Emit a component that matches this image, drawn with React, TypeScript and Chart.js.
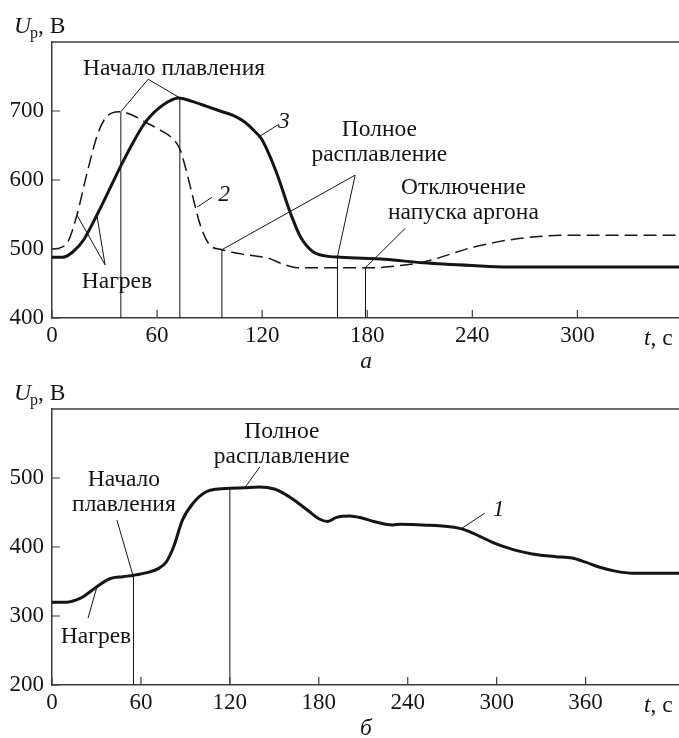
import React, { useEffect, useRef } from "react";
import { Chart, registerables } from "chart.js";

Chart.register(...registerables);

const SERIF = "'Liberation Serif', 'Times New Roman', serif";
const INK = "#151515";
const FRAME = "#3c3c3c";
const FONT_SIZE = 23.5;
const TICK_SIZE = 23;

// ---------- Panel а ----------
const timeA3 = [0, 6, 12, 18, 25, 32, 39, 46, 52, 56, 60, 66, 72, 80, 88, 96, 104, 110, 116, 120, 128, 136, 142, 149, 156, 165, 190, 212, 240, 260, 358];
const voltA3 = [488, 488, 496, 513, 546, 582, 619, 653, 679, 692, 702, 713, 719, 714, 707, 700, 693, 684, 670, 658, 612, 553, 517, 496, 490, 488, 485, 480, 476, 474, 474];
const timeA2 = [0, 5, 9, 14, 20, 26, 30, 34, 39, 45, 54, 62, 68, 73, 76, 79, 85, 90, 97, 110, 123, 132, 140, 185, 195, 212, 241, 269, 298, 358];
const voltA2 = [500, 502, 510, 547, 610, 666, 688, 697, 699, 695, 683, 672, 662, 645, 620, 590, 532, 506, 499, 492, 487, 478, 473, 473, 475, 481, 503, 516, 520, 520];
const xTicksA = [0, 60, 120, 180, 240, 300];
const yTicksA = [400, 500, 600, 700];
const xRangeA = [0, 358];
const yRangeA = [400, 800];

// annotation anchors of panel а (data units: t, U)
const dropA = [[39.3, 699], [73, 719], [97, 499], [163, 489], [179, 473]];
const leadersA = [
  [[54.9, 746], [39.3, 699]],
  [[54.9, 746], [73, 719]],
  [[30.3, 477], [14.3, 549]],
  [[30.3, 477], [25.7, 548]],
  [[173.1, 607], [97, 499]],
  [[173.1, 607], [163, 489]],
  [[201.7, 530], [179, 473]],
  [[91.4, 575], [83, 561]],
  [[129.1, 680], [117.7, 662]],
];
const textA = [
  { lines: ["Начало плавления"], t: 69.7, u: 752 },
  { lines: ["Нагрев"], t: 37.1, u: 444 },
  { lines: ["Полное", "расплавление"], t: 186.9, u: 663.8 },
  { lines: ["Отключение", "напуска аргона"], t: 234.9, u: 579.7 },
  { lines: ["2"], t: 94.9, u: 569, italic: true, left: true },
  { lines: ["3"], t: 129.1, u: 675, italic: true, left: true },
];

// ---------- Panel б ----------
const timeB1 = [0, 10, 16, 21, 30, 39, 48, 55, 66, 72, 77, 82, 88, 95, 104, 112, 120, 130, 140, 150, 156, 164, 172, 180, 186, 192, 201, 209, 217, 225, 230, 235, 250, 275, 282, 289, 298, 307, 315, 324, 340, 351, 360, 369, 380, 392, 423];
const voltB1 = [320, 320, 323, 328, 342, 354, 357, 359, 364, 369, 378, 400, 439, 463, 480, 484, 485, 486, 487, 484, 478, 467, 454, 441, 437, 443, 445, 442, 437, 433, 432, 433, 432, 427, 422, 415, 406, 399, 394, 390, 386, 384, 378, 371, 365, 362, 362];
const xTicksB = [0, 60, 120, 180, 240, 300, 360];
const yTicksB = [200, 300, 400, 500];
const xRangeB = [0, 423];
const yRangeB = [200, 600];

const dropB = [[55, 359], [120, 485]];
const leadersB = [
  [[140.2, 516], [130.1, 486]],
  [[43.8, 439], [54.6, 359]],
  [[24.3, 297], [30.3, 342]],
  [[291.9, 449], [276.4, 427]],
];
const textB = [
  { lines: ["Полное", "расплавление"], t: 155, u: 558 },
  { lines: ["Начало", "плавления"], t: 48.5, u: 488 },
  { lines: ["Нагрев"], t: 29.7, u: 261 },
  { lines: ["1"], t: 297.3, u: 445, italic: true, left: true },
];

type Pt = number[];

const curve = (ts: number[], us: number[], width: number, dash: number[]) => ({
  data: ts.map((t, i) => ({ x: t, y: us[i] })),
  borderColor: INK,
  borderWidth: width,
  borderDash: dash,
  pointRadius: 0,
  cubicInterpolationMode: "monotone",
  fill: false,
  order: 1,
  borderJoinStyle: "round",
});

const seg = (pts: Pt[]) => ({
  data: pts.map(([t, u]) => ({ x: t, y: u })),
  borderColor: INK,
  borderWidth: 1,
  pointRadius: 0,
  tension: 0,
  fill: false,
  order: 2,
});

const annotate = {
  id: "annotate",
  afterDatasetsDraw(chart: any, _args: any, opts: any) {
    const { ctx, chartArea } = chart;
    const xs = chart.scales.x;
    const ys = chart.scales.y;
    ctx.save();
    // top frame line
    ctx.strokeStyle = FRAME;
    ctx.lineWidth = 1.5;
    ctx.beginPath();
    ctx.moveTo(chartArea.left, chartArea.top);
    ctx.lineTo(chartArea.right, chartArea.top);
    ctx.stroke();
    // inward ticks
    ctx.lineWidth = 1.2;
    ctx.beginPath();
    xs.ticks.forEach((tk: any) => {
      const px = xs.getPixelForValue(tk.value);
      ctx.moveTo(px, chartArea.bottom);
      ctx.lineTo(px, chartArea.bottom - 8);
    });
    ys.ticks.forEach((tk: any) => {
      const py = ys.getPixelForValue(tk.value);
      ctx.moveTo(chartArea.left, py);
      ctx.lineTo(chartArea.left + 8, py);
    });
    ctx.stroke();

    ctx.fillStyle = INK;
    ctx.textBaseline = "alphabetic";
    // annotation texts
    (opts.texts || []).forEach((tx: any) => {
      ctx.font = `${tx.italic ? "italic " : ""}${FONT_SIZE}px ${SERIF}`;
      ctx.textAlign = tx.left ? "left" : "center";
      const px = xs.getPixelForValue(tx.t);
      const py = ys.getPixelForValue(tx.u);
      tx.lines.forEach((ln: string, i: number) => ctx.fillText(ln, px, py + i * 25));
    });

    // axis titles
    ctx.textAlign = "left";
    let x0 = 14;
    const yb = chartArea.top - 9;
    ctx.font = `italic ${FONT_SIZE}px ${SERIF}`;
    ctx.fillText("U", x0, yb);
    x0 += ctx.measureText("U").width - 1;
    ctx.font = `16px ${SERIF}`;
    ctx.fillText("p", x0, yb + 5);
    x0 += ctx.measureText("p").width;
    ctx.font = `${FONT_SIZE}px ${SERIF}`;
    ctx.fillText(", В", x0, yb);

    let tx0 = chartArea.right - 35;
    const tb = chartArea.bottom + 27;
    ctx.font = `italic ${FONT_SIZE}px ${SERIF}`;
    ctx.fillText("t", tx0, tb);
    tx0 += ctx.measureText("t").width;
    ctx.font = `${FONT_SIZE}px ${SERIF}`;
    ctx.fillText(", с", tx0, tb);

    ctx.textAlign = "center";
    ctx.font = `italic ${FONT_SIZE}px ${SERIF}`;
    ctx.fillText(opts.panel, 366, chartArea.bottom + 50);
    ctx.restore();
  },
};

function makeConfig(p: any) {
  return {
    type: "line",
    data: { datasets: p.datasets },
    plugins: [annotate],
    options: {
      animation: false,
      responsive: false,
      events: [],
      layout: { padding: { top: p.top, left: 0, right: 0, bottom: 0 } },
      plugins: {
        legend: { display: false },
        tooltip: { enabled: false },
        annotate: { texts: p.texts, panel: p.panel },
      },
      scales: {
        x: {
          type: "linear",
          min: p.xRange[0],
          max: p.xRange[1],
          afterBuildTicks: (s: any) => {
            s.ticks = p.xTicks.map((v: number) => ({ value: v }));
          },
          afterFit: (s: any) => {
            s.height = p.bottom;
          },
          grid: { display: false, drawTicks: false },
          border: { display: true, color: FRAME, width: 1.5 },
          ticks: { font: { family: SERIF, size: TICK_SIZE }, color: INK, padding: 4, maxRotation: 0, autoSkip: false },
        },
        y: {
          type: "linear",
          min: p.yRange[0],
          max: p.yRange[1],
          afterBuildTicks: (s: any) => {
            s.ticks = p.yTicks.map((v: number) => ({ value: v }));
          },
          afterFit: (s: any) => {
            s.width = 52;
          },
          grid: { display: false, drawTicks: false },
          border: { display: true, color: FRAME, width: 1.5 },
          ticks: { font: { family: SERIF, size: TICK_SIZE }, color: INK, padding: 8, autoSkip: false },
        },
      },
    },
  };
}

export default function App() {
  const refA = useRef<HTMLCanvasElement | null>(null);
  const refB = useRef<HTMLCanvasElement | null>(null);

  useEffect(() => {
    const dsA = [
      curve(timeA3, voltA3, 3, []),
      curve(timeA2, voltA2, 1.5, [13, 6]),
      ...dropA.map(([t, u]) => seg([[t, yRangeA[0]], [t, u]])),
      ...leadersA.map((l) => seg(l)),
    ];
    const dsB = [
      curve(timeB1, voltB1, 3, []),
      ...dropB.map(([t, u]) => seg([[t, yRangeB[0]], [t, u]])),
      ...leadersB.map((l) => seg(l)),
    ];
    const chA = new Chart(
      refA.current as HTMLCanvasElement,
      makeConfig({ datasets: dsA, texts: textA, panel: "а", top: 42, bottom: 52, xRange: xRangeA, yRange: yRangeA, xTicks: xTicksA, yTicks: yTicksA }) as any
    );
    const chB = new Chart(
      refB.current as HTMLCanvasElement,
      makeConfig({ datasets: dsB, texts: textB, panel: "б", top: 39, bottom: 53, xRange: xRangeB, yRange: yRangeB, xTicks: xTicksB, yTicks: yTicksB }) as any
    );
    return () => {
      chA.destroy();
      chB.destroy();
    };
  }, []);

  return (
    <div style={{ position: "absolute", left: 0, top: 0, width: 679, height: 738, background: "#fff" }}>
      <canvas ref={refA} width={679} height={370} style={{ display: "block", width: 679, height: 370 }} />
      <canvas ref={refB} width={679} height={368} style={{ display: "block", width: 679, height: 368 }} />
    </div>
  );
}
